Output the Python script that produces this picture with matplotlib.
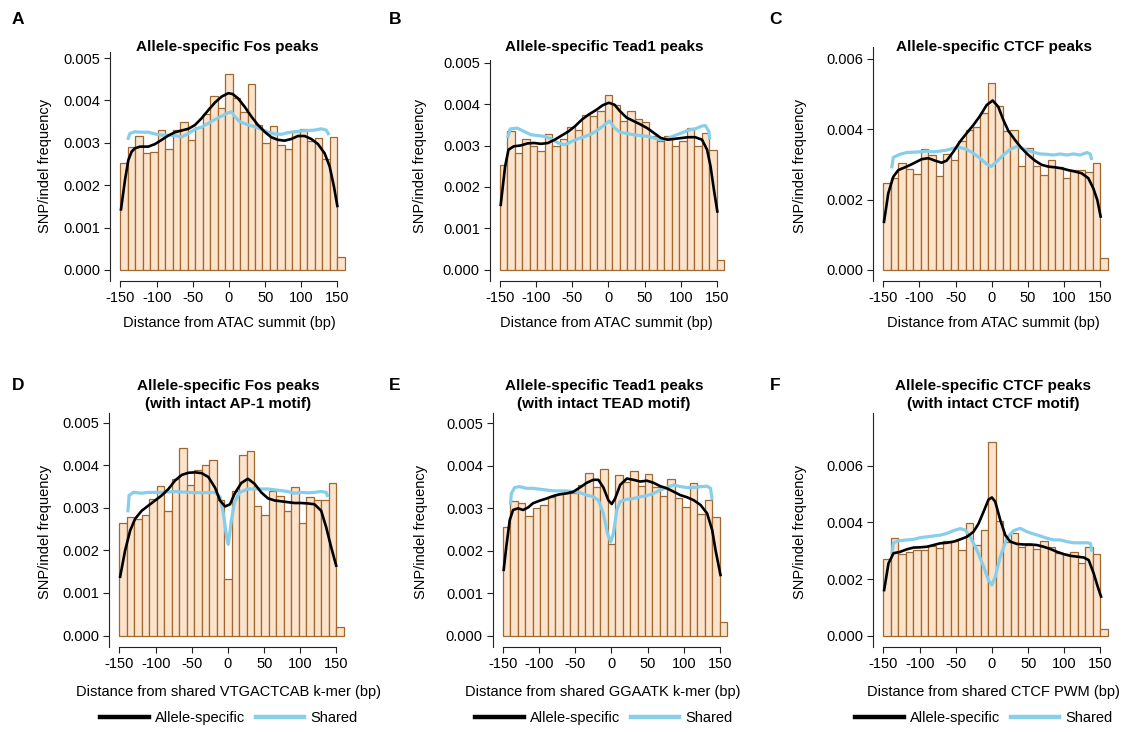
import numpy as np
import matplotlib
matplotlib.use("Agg")
import matplotlib.pyplot as plt
from matplotlib.lines import Line2D
from matplotlib.ticker import FormatStrFormatter

plt.rcParams['font.family'] = ['Liberation Sans', 'DejaVu Sans']
plt.rcParams['axes.unicode_minus'] = False

# ---------------- data (frequencies in units of 1e-3) ----------------
bin_edges = np.linspace(-150, 160, 31)
x_ticks = [-150, -100, -50, 0, 50, 100, 150]

fos_hist = [2.53, 2.90, 3.17, 2.76, 2.78, 3.31, 2.85, 3.31, 3.48, 3.06, 3.37, 3.67, 4.10, 3.81, 4.62,
            4.06, 3.73, 4.39, 3.41, 2.99, 3.40, 2.95, 2.86, 3.29, 3.32, 3.04, 3.11, 2.61, 3.14, 0.31]
fos_as_x = [-149.3, -143.8, -139.2, -134.6, -130, -123, -111.6, -102.3, -93, -84, -74.6, -65.4, -56.2, -47,
            -37.8, -28.6, -19.4, -10.1, -0.9, 5.1, 12.4, 21.7, 30.9, 40.1, 49.3, 58.5, 67.7, 76.9, 86.2,
            95.4, 104.6, 113.8, 123, 132.3, 139.2, 145.2, 149.8]
fos_as_y = [1.43, 2.12, 2.59, 2.79, 2.87, 2.91, 2.91, 2.97, 3.07, 3.17, 3.25, 3.29, 3.33, 3.42, 3.58, 3.77,
            3.95, 4.09, 4.17, 4.15, 4.05, 3.85, 3.62, 3.42, 3.26, 3.13, 3.07, 3.05, 3.09, 3.16, 3.16, 3.09,
            2.97, 2.75, 2.44, 1.96, 1.51]
fos_sh_x = [-140.1, -136.9, -130, -120.8, -111.6, -102.3, -93.1, -83.9, -74.7, -65.4, -56.2, -47, -37.8,
            -28.6, -19.4, -10.1, -0.9, 3.5, 8, 15, 26.3, 35.5, 44.7, 53.9, 63.1, 72.4, 81.6, 90.8, 100,
            109.2, 118.4, 127.7, 134.6, 138.3]
fos_sh_y = [3.07, 3.22, 3.26, 3.25, 3.25, 3.21, 3.18, 3.18, 3.17, 3.14, 3.22, 3.32, 3.37, 3.46, 3.55, 3.63,
            3.71, 3.73, 3.62, 3.50, 3.42, 3.38, 3.32, 3.25, 3.21, 3.20, 3.24, 3.26, 3.28, 3.29, 3.30, 3.33,
            3.30, 3.18]

tead_hist = [2.53, 3.34, 2.82, 3.16, 3.00, 2.86, 3.27, 2.98, 3.16, 3.44, 3.38, 3.73, 3.70, 3.83, 4.22,
             3.97, 3.60, 3.83, 3.64, 3.56, 3.22, 3.12, 3.24, 3.00, 3.10, 3.43, 3.00, 3.30, 2.88, 0.25]
tead_as_x = [-149, -142.9, -138.2, -131, -121.6, -112, -102.7, -93.2, -83.7, -74.3, -64.8, -55.3, -45.9,
             -36.4, -27, -17.5, -8, 0.5, 8.6, 15.7, 25.1, 34.6, 44, 53.5, 63, 72.5, 81.9, 91.4, 100.8,
             110.3, 119.8, 129.3, 136.3, 141.1, 145.8, 150.5]
tead_as_y = [1.57, 2.50, 2.90, 2.98, 3.00, 3.05, 3.06, 3.04, 3.06, 3.14, 3.24, 3.34, 3.47, 3.63, 3.75,
             3.85, 3.97, 4.03, 3.98, 3.83, 3.67, 3.59, 3.51, 3.42, 3.30, 3.18, 3.14, 3.16, 3.18, 3.20,
             3.20, 3.14, 2.90, 2.50, 1.93, 1.41]
tead_sh_x = [-139.6, -135.8, -126.3, -116.9, -107.4, -98, -88.5, -79, -69.5, -60, -50.6, -41.1, -31.7,
             -22.2, -12.7, -3.3, 1.5, 8.6, 15.7, 25.1, 34.6, 44, 53.5, 63, 72.5, 81.9, 91.4, 100.8,
             110.3, 119.8, 129.3, 134, 138.7, 140]
tead_sh_y = [3.18, 3.40, 3.42, 3.34, 3.26, 3.24, 3.22, 3.16, 3.06, 3.02, 3.10, 3.17, 3.22, 3.29, 3.40,
             3.53, 3.59, 3.42, 3.32, 3.29, 3.26, 3.24, 3.22, 3.18, 3.14, 3.17, 3.24, 3.30, 3.37, 3.40,
             3.47, 3.48, 3.34, 3.14]

ctcf_hist = [2.48, 2.63, 3.03, 2.88, 2.72, 3.43, 3.26, 2.66, 3.31, 3.12, 3.68, 3.98, 4.06, 4.45, 5.31,
             4.65, 3.95, 3.98, 2.95, 3.48, 2.95, 2.70, 3.12, 2.93, 2.63, 2.83, 2.83, 2.80, 3.05, 0.33]
ctcf_as_x = [-149, -143.1, -136.2, -129.3, -117.7, -108.5, -97, -87.8, -78.6, -69.3, -62.4, -53.2, -44,
             -34.7, -25.5, -16.3, -7.1, 1.2, 9, 15.9, 22.8, 32, 41.3, 50.5, 59.7, 68.9, 78.1, 87.4, 96.6,
             105.8, 115, 124.2, 133.5, 140.4, 145.9, 150.5]
ctcf_as_y = [1.37, 2.18, 2.65, 2.84, 2.94, 3.03, 3.15, 3.18, 3.11, 3.05, 3.11, 3.36, 3.65, 3.89, 4.12,
             4.38, 4.69, 4.82, 4.64, 4.27, 3.96, 3.70, 3.46, 3.27, 3.11, 2.99, 2.94, 2.92, 2.89, 2.84,
             2.80, 2.75, 2.61, 2.32, 1.99, 1.52]
ctcf_sh_x = [-138.5, -136.2, -126.9, -117.7, -108.5, -99.3, -90, -80.8, -71.6, -62.4, -53.2, -44, -34.7,
             -25.5, -16.3, -7.1, -1, 6.8, 16, 25.3, 34.5, 39.1, 48.4, 57.6, 66.8, 76, 85.3, 94.5, 103.7,
             112.9, 122.2, 131.4, 136, 138.3]
ctcf_sh_y = [2.89, 3.20, 3.29, 3.34, 3.35, 3.36, 3.38, 3.36, 3.38, 3.41, 3.46, 3.48, 3.43, 3.32, 3.18,
             3.01, 2.94, 3.08, 3.27, 3.43, 3.51, 3.49, 3.41, 3.35, 3.30, 3.29, 3.27, 3.30, 3.27, 3.30,
             3.27, 3.34, 3.30, 3.13]

ap1_hist = [2.64, 2.77, 2.74, 2.82, 3.21, 3.52, 2.93, 3.67, 4.40, 3.54, 3.89, 4.00, 4.12, 3.18, 1.33,
            3.39, 4.24, 4.33, 3.04, 2.83, 3.40, 3.27, 2.93, 3.48, 2.64, 3.24, 3.18, 3.19, 3.58, 0.20]
ap1_as_x = [-149.1, -142.2, -135.3, -128.4, -119.2, -110, -100.7, -91.5, -82.3, -73.1, -63.9, -54.7,
            -45.5, -36.3, -27.1, -17.9, -11, -4.1, 2.8, 9.2, 18.4, 27.6, 36.8, 46, 55.2, 64.4, 73.6,
            82.8, 92, 101.2, 110.4, 119.6, 128.8, 135.8, 142.7, 149.6]
ap1_as_y = [1.38, 2.00, 2.46, 2.74, 2.93, 3.05, 3.17, 3.29, 3.44, 3.64, 3.77, 3.82, 3.83, 3.81, 3.72,
            3.47, 3.17, 3.03, 3.08, 3.33, 3.58, 3.68, 3.56, 3.36, 3.22, 3.17, 3.15, 3.13, 3.11, 3.11,
            3.10, 3.08, 2.93, 2.54, 2.07, 1.64]
ap1_sh_x = [-138.5, -136.7, -130.7, -119.2, -110, -91.5, -73.1, -54.7, -36.3, -17.9, -11, -6.4, -1.8,
            0.5, 4.6, 9.2, 16.1, 27.6, 36.8, 46, 55.2, 64.4, 73.6, 82.8, 92, 101.2, 110.4, 119.6, 128.8,
            135.8, 138.1]
ap1_sh_y = [2.89, 3.29, 3.36, 3.34, 3.36, 3.36, 3.38, 3.36, 3.35, 3.36, 3.25, 2.86, 2.31, 2.14, 2.70,
            3.13, 3.36, 3.44, 3.44, 3.44, 3.44, 3.42, 3.40, 3.38, 3.34, 3.36, 3.35, 3.36, 3.38, 3.36,
            3.25]

teadm_hist = [2.56, 3.16, 3.13, 2.83, 3.00, 3.08, 3.27, 3.33, 3.35, 3.37, 3.56, 3.83, 3.49, 3.93, 2.17,
              3.78, 3.63, 3.87, 3.52, 3.80, 3.49, 3.29, 3.69, 3.25, 3.02, 3.59, 2.86, 3.20, 2.79, 0.33]
teadm_as_x = [-149, -145.4, -140.7, -136.1, -129.2, -122.2, -115.3, -108.4, -99.1, -89.8, -80.6, -71.3,
              -62.1, -52.8, -43.6, -34.3, -25.1, -18.1, -11.2, -4.3, 0.4, 5, 12, 21.2, 30.5, 39.7, 49,
              58.2, 67.5, 76.7, 86, 95.2, 104.5, 113.7, 123, 132.2, 139.2, 143.8, 150.7]
teadm_as_y = [1.55, 2.10, 2.72, 2.96, 3.00, 2.96, 3.02, 3.12, 3.18, 3.23, 3.29, 3.33, 3.35, 3.39, 3.49,
              3.60, 3.67, 3.67, 3.49, 3.19, 3.10, 3.23, 3.55, 3.70, 3.67, 3.63, 3.65, 3.60, 3.52, 3.47,
              3.39, 3.31, 3.26, 3.19, 3.08, 2.88, 2.49, 2.02, 1.43]
teadm_sh_x = [-139.8, -138.4, -133.8, -126.9, -117.6, -108.4, -99.1, -89.8, -80.6, -71.3, -62.1, -52.8,
              -43.6, -34.3, -25.1, -18.1, -11.2, -5.6, -1, 2.7, 7.3, 12, 21.2, 30.5, 39.7, 49, 58.2,
              67.5, 76.7, 86, 95.2, 104.5, 113.7, 123, 132.2, 136.9, 139.2]
teadm_sh_y = [3.08, 3.35, 3.49, 3.51, 3.47, 3.47, 3.45, 3.43, 3.41, 3.41, 3.41, 3.39, 3.37, 3.31, 3.27,
              3.19, 2.88, 2.41, 2.21, 2.41, 2.96, 3.16, 3.21, 3.23, 3.27, 3.30, 3.35, 3.43, 3.49, 3.55,
              3.51, 3.49, 3.49, 3.51, 3.52, 3.47, 3.19]

ctcfm_hist = [2.72, 3.44, 2.90, 2.94, 3.02, 3.01, 3.16, 3.10, 3.33, 3.35, 3.02, 3.99, 3.20, 3.73, 6.82,
              4.04, 3.29, 3.64, 3.14, 3.20, 3.05, 3.36, 3.14, 2.92, 2.87, 2.94, 2.58, 3.12, 2.87, 0.22]
ctcfm_as_x = [-149.1, -143.1, -136.2, -126.9, -117.7, -108.5, -99.3, -90, -80.8, -71.6, -62.4, -53.1,
              -43.9, -34.7, -25.5, -18.5, -11.6, -4.7, -0.1, 4.5, 11.5, 18.4, 25.3, 34.5, 43.7, 53, 62.2,
              71.4, 80.7, 89.9, 99.1, 108.3, 117.6, 126.8, 133.7, 140.6, 146.2, 150.8]
ctcfm_as_y = [1.61, 2.55, 2.91, 2.96, 3.05, 3.11, 3.12, 3.14, 3.20, 3.26, 3.28, 3.32, 3.40, 3.49, 3.67,
              3.96, 4.38, 4.81, 4.88, 4.73, 4.08, 3.55, 3.32, 3.24, 3.22, 3.22, 3.20, 3.14, 3.06, 2.96,
              2.88, 2.82, 2.79, 2.76, 2.67, 2.20, 1.73, 1.38]
ctcfm_sh_x = [-138.5, -136.2, -129.2, -117.7, -108.5, -99.3, -90, -80.8, -71.6, -62.4, -53.1, -43.9, -37,
              -30.1, -20.8, -11.6, -4.7, -0.1, 4.5, 11.5, 20.7, 29.9, 39.1, 48.4, 57.6, 66.8, 76, 85.3,
              94.5, 103.7, 112.9, 122.1, 131.4, 136, 138.3]
ctcfm_sh_y = [2.88, 3.28, 3.35, 3.38, 3.40, 3.46, 3.49, 3.52, 3.55, 3.61, 3.71, 3.78, 3.73, 3.49, 3.02,
              2.44, 1.96, 1.79, 2.08, 2.79, 3.44, 3.71, 3.79, 3.67, 3.59, 3.52, 3.44, 3.38, 3.38, 3.32,
              3.28, 3.28, 3.28, 3.26, 2.96]

titles = ["Allele-specific Fos peaks", "Allele-specific Tead1 peaks", "Allele-specific CTCF peaks",
          "Allele-specific Fos peaks\n(with intact AP-1 motif)",
          "Allele-specific Tead1 peaks\n(with intact TEAD motif)",
          "Allele-specific CTCF peaks\n(with intact CTCF motif)"]
xlabels = ["Distance from ATAC summit (bp)"] * 3 + [
    "Distance from shared VTGACTCAB k-mer (bp)",
    "Distance from shared GGAATK k-mer (bp)",
    "Distance from shared CTCF PWM (bp)"]
letters = ["A", "B", "C", "D", "E", "F"]
ylabel = "SNP/indel frequency"
legend_labels = ["Allele-specific", "Shared"]

hists = [fos_hist, tead_hist, ctcf_hist, ap1_hist, teadm_hist, ctcfm_hist]
as_curves = [(fos_as_x, fos_as_y), (tead_as_x, tead_as_y), (ctcf_as_x, ctcf_as_y),
             (ap1_as_x, ap1_as_y), (teadm_as_x, teadm_as_y), (ctcfm_as_x, ctcfm_as_y)]
sh_curves = [(fos_sh_x, fos_sh_y), (tead_sh_x, tead_sh_y), (ctcf_sh_x, ctcf_sh_y),
             (ap1_sh_x, ap1_sh_y), (teadm_sh_x, teadm_sh_y), (ctcfm_sh_x, ctcfm_sh_y)]
ytick_sets = [np.arange(0, 0.0051, 0.001)] * 2 + [np.arange(0, 0.0061, 0.002)] + \
             [np.arange(0, 0.0051, 0.001)] * 2 + [np.arange(0, 0.0061, 0.002)]

# ---------------- layout (pixels) ----------------
W, H = 1135, 732
fig = plt.figure(figsize=(W / 100, H / 100), dpi=100)

# left px, zero-line px, spine-top px, px per 0.001
layout = [(110, 270, 52, 42.4), (489.5, 270, 60, 41.5), (872.8, 270, 47, 35.17),
          (109, 635.5, 413, 42.6), (492.5, 635.7, 413, 42.47), (873, 635.7, 413, 28.33)]
XLIM = (-164.5, 175.0)
PPU_X = 0.7233
AX_W = (XLIM[1] - XLIM[0]) * PPU_X
SPINE_DROP = 11.5

title_pos = [(227, 47), (604, 47), (994, 47), (228, 395), (604, 395), (993, 395)]
ylabel_pos = [(45, 166), (420, 166), (800, 166), (45, 532), (421, 532), (800, 532)]
xlabel_pos = [(229, 323), (606, 323), (993, 323), (228, 692), (603, 692), (993, 692)]
letter_pos = [(18, 20), (395, 20), (775, 20), (18, 386), (395, 386), (775, 386)]
legend_pos = [(229, 718), (604, 718), (984, 718)]

BAR_FACE = "#FBE3CC"
BAR_EDGE = "#A0672F"
BLUE = "#87CEEB"
FS = 10.5

for i in range(6):
    left, zero, top, ppu = layout[i]
    bottom_px = zero + SPINE_DROP
    ax = fig.add_axes([left / W, 1 - bottom_px / H, AX_W / W, (bottom_px - top) / H])
    ax.set_xlim(*XLIM)
    ax.set_ylim(-SPINE_DROP / ppu * 1e-3, (zero - top) / ppu * 1e-3)

    ax.bar(bin_edges[:-1], np.array(hists[i]) * 1e-3, width=np.diff(bin_edges), align="edge",
           color=BAR_FACE, edgecolor=BAR_EDGE, linewidth=0.9, zorder=1)
    sx, sy = sh_curves[i]
    ax.plot(sx, np.array(sy) * 1e-3, color=BLUE, lw=2.3, solid_capstyle="butt", zorder=2)
    ax2x, ax2y = as_curves[i]
    ax.plot(ax2x, np.array(ax2y) * 1e-3, color="black", lw=1.9, zorder=3)

    for s in ["top", "right"]:
        ax.spines[s].set_visible(False)
    ax.spines["bottom"].set_bounds(-150, 150)
    for s in ["left", "bottom"]:
        ax.spines[s].set_linewidth(0.8)
        ax.spines[s].set_color("#222222")
    ax.set_xticks(x_ticks)
    ax.set_xticklabels([str(t) for t in x_ticks])
    ax.set_yticks(ytick_sets[i])
    ax.yaxis.set_major_formatter(FormatStrFormatter("%.3f"))
    ax.tick_params(direction="out", length=4.5, width=0.8, color="#222222", labelsize=FS, pad=2.5)

    tx, ty = title_pos[i]
    fig.text(tx / W, 1 - ty / H, titles[i], ha="center", va="center", fontsize=11,
             fontweight="bold", linespacing=1.3)
    lx, ly = ylabel_pos[i]
    fig.text(lx / W, 1 - ly / H, ylabel, ha="center", va="center", rotation=90, fontsize=FS)
    xx, xy = xlabel_pos[i]
    fig.text(xx / W, 1 - xy / H, xlabels[i], ha="center", va="center", fontsize=FS)
    px, py = letter_pos[i]
    fig.text(px / W, 1 - py / H, letters[i], ha="center", va="center", fontsize=12.5,
             fontweight="bold")

handles = [Line2D([], [], color="black", lw=3.2), Line2D([], [], color=BLUE, lw=3.2)]
for cx, cy in legend_pos:
    fig.legend(handles, legend_labels, loc="center", bbox_to_anchor=(cx / W, 1 - cy / H), ncol=2,
               frameon=False, fontsize=FS, handlelength=3.3, handletextpad=0.45,
               columnspacing=0.7, borderpad=0, borderaxespad=0)

fig.savefig("out.png", dpi=100)
